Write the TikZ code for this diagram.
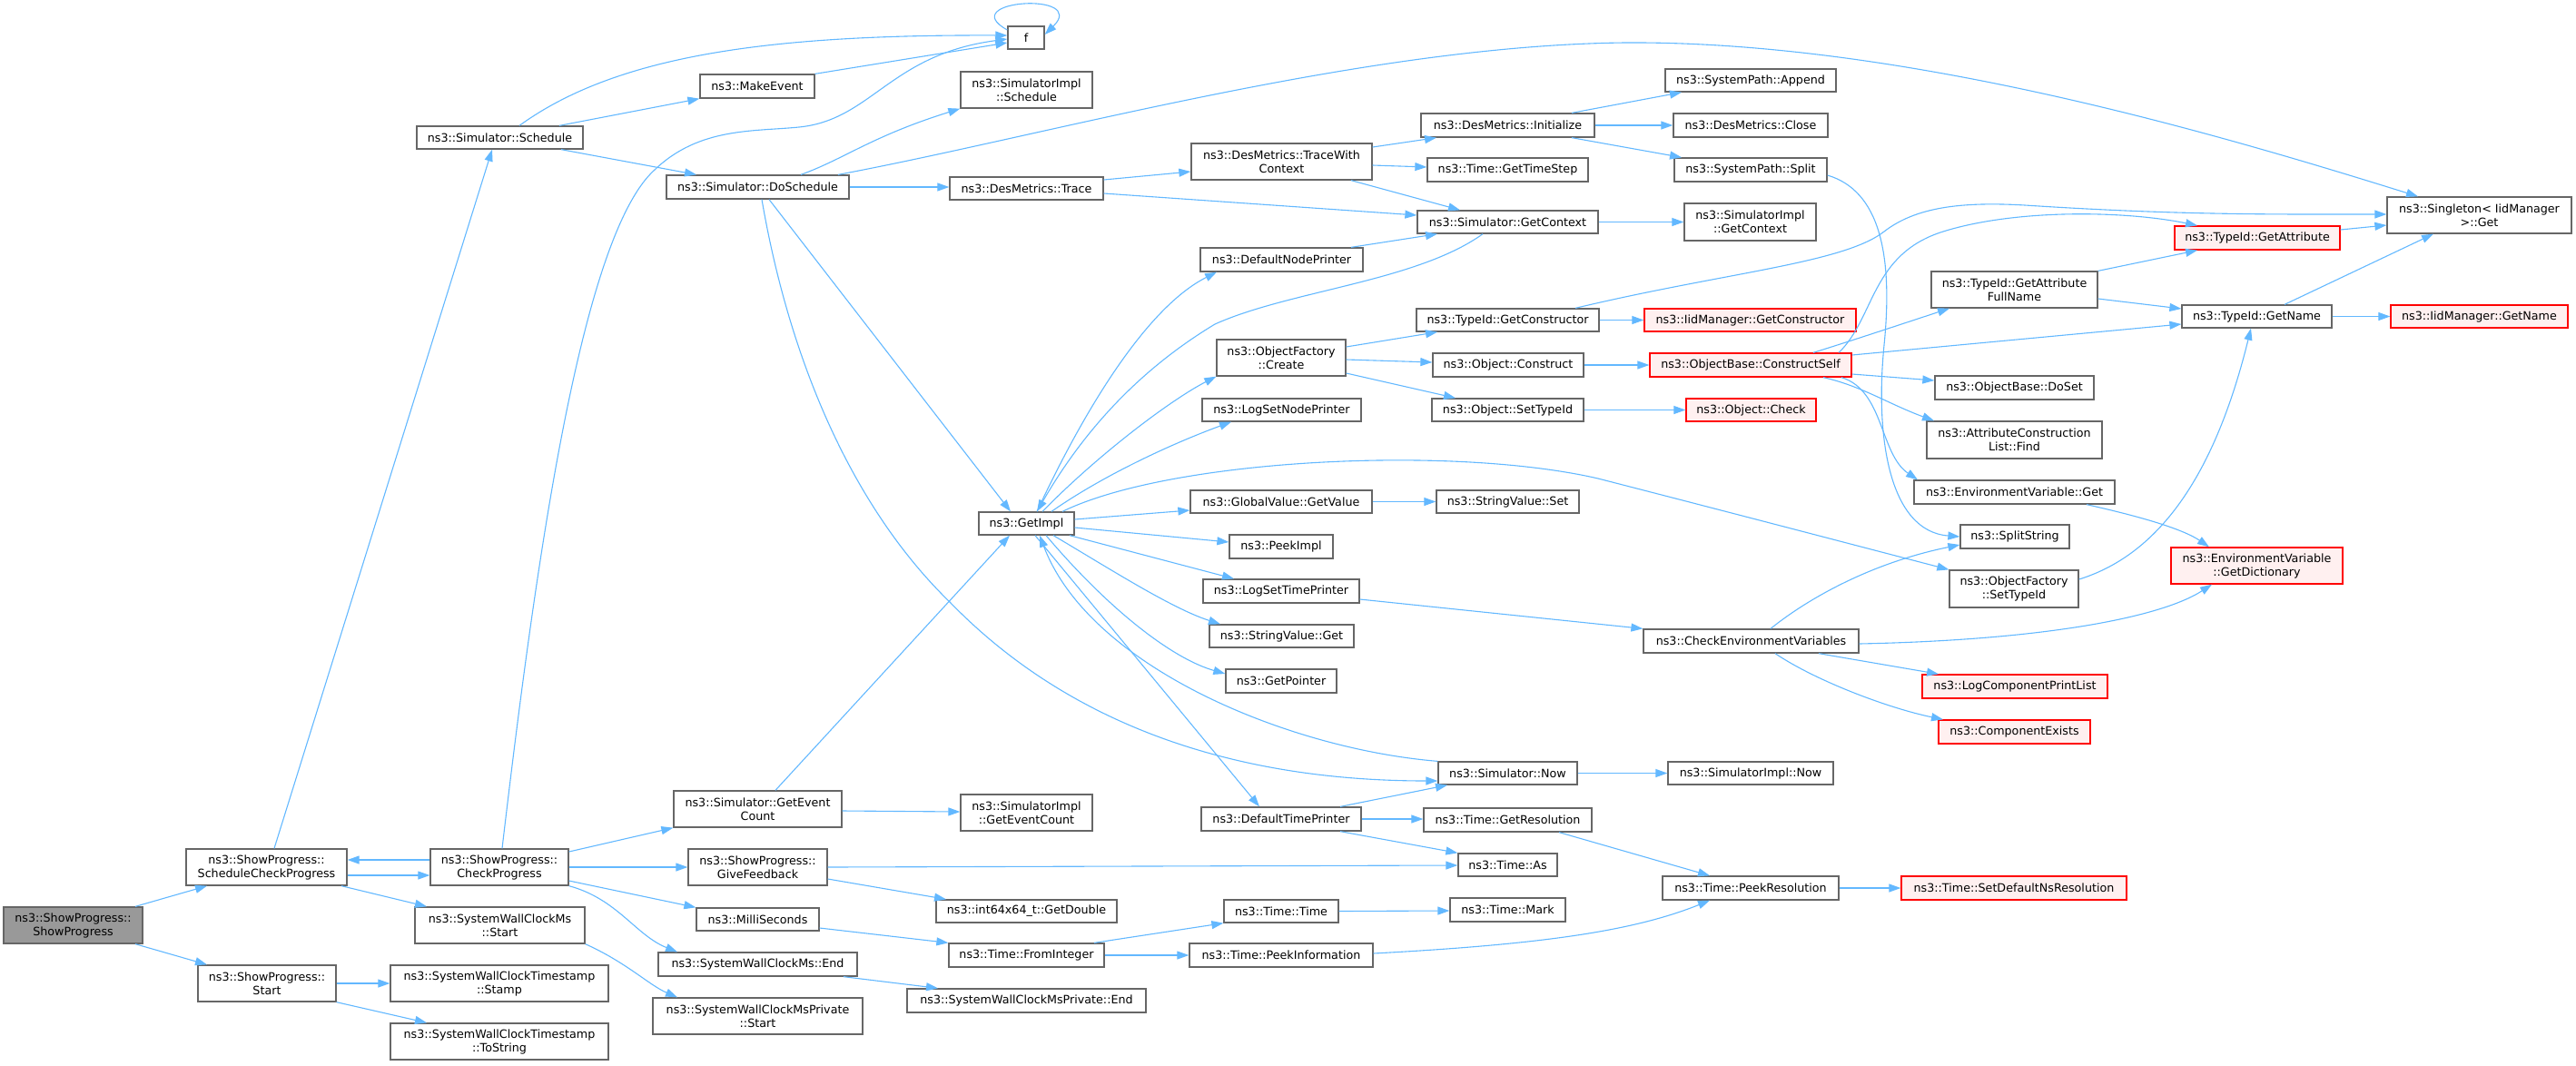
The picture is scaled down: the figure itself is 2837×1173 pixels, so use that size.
\documentclass[tikz,border=0pt]{standalone}
\usepackage{fontspec}
\usetikzlibrary{arrows.meta}
\newfontfamily\dvsans{DejaVu Sans}
\definecolor{edgeblue}{HTML}{63B8FF}
\definecolor{boxgray}{HTML}{666666}
\definecolor{redfill}{HTML}{FFF0F0}
\definecolor{grayfill}{HTML}{999999}
\newcommand\nodefont{\dvsans\fontsize{12.7}{15}\selectfont}
\newcommand\nb[7][]{\node[box,#1,minimum width={(#5-#3)*1pt},minimum height={(#6-#4)*1pt}] (#2) at ({(#3+#5)/2},{(#4+#6)/2}) {#7};}
\begin{document}
\begin{tikzpicture}[x=1pt,y=-1pt,
  box/.style={draw=boxgray, line width=1.3pt, fill=white, inner sep=0pt, align=center, font=\nodefont, text=black},
  redbox/.style={draw=red, fill=redfill},
  edge/.style={draw=edgeblue, line width=1.1pt, -{Triangle[length=13pt,width=9pt]}}]
\useasboundingbox (0,0) rectangle (2837,1173);
% nodes
\nb[fill=grayfill]{showprog}{4}{999}{157}{1039}{ns3::ShowProgress::\\ShowProgress}
\nb{sched}{205}{935}{382}{975}{ns3::ShowProgress::\\ScheduleCheckProgress}
\nb{check}{474}{935}{626}{975}{ns3::ShowProgress::\\CheckProgress}
\nb{swcmstart}{457}{999}{644}{1039}{ns3::SystemWallClockMs\\::Start}
\nb{spstart}{218}{1063}{370}{1103}{ns3::ShowProgress::\\Start}
\nb{stamp}{430}{1063}{670}{1103}{ns3::SystemWallClockTimestamp\\::Stamp}
\nb{tostring}{430}{1127}{670}{1167}{ns3::SystemWallClockTimestamp\\::ToString}
\nb{simsched}{459}{139}{642}{164}{ns3::Simulator::Schedule}
\nb{makeevent}{771}{82}{897}{108}{ns3::MakeEvent}
\nb{f}{1110}{29}{1150}{54}{f}
\nb{simimplsched}{1058}{79}{1203}{119}{ns3::SimulatorImpl\\::Schedule}
\nb{dosched}{734}{193}{935}{219}{ns3::Simulator::DoSchedule}
\nb{trace}{1046}{195}{1215}{220}{ns3::DesMetrics::Trace}
\nb{tracewc}{1312}{158}{1511}{198}{ns3::DesMetrics::TraceWith\\Context}
\nb{init}{1565}{125}{1756}{151}{ns3::DesMetrics::Initialize}
\nb{timestep}{1572}{174}{1749}{200}{ns3::Time::GetTimeStep}
\nb{getctx}{1561}{232}{1760}{257}{ns3::Simulator::GetContext}
\nb{append}{1834}{76}{2022}{101}{ns3::SystemPath::Append}
\nb{close}{1843}{125}{2013}{151}{ns3::DesMetrics::Close}
\nb{split}{1844}{174}{2012}{200}{ns3::SystemPath::Split}
\nb{implctx}{1855}{224}{2000}{265}{ns3::SimulatorImpl\\::GetContext}
\nb{defnode}{1322}{273}{1501}{299}{ns3::DefaultNodePrinter}
\nb{singleton}{2629}{217}{2832}{257}{ns3::Singleton< IidManager\\>::Get}
\nb[redbox]{getattr}{2395}{249}{2577}{275}{ns3::TypeId::GetAttribute}
\nb{attrfull}{2127}{299}{2310}{339}{ns3::TypeId::GetAttribute\\FullName}
\nb{getname}{2403}{336}{2568}{361}{ns3::TypeId::GetName}
\nb[redbox]{iidgetname}{2633}{336}{2828}{361}{ns3::IidManager::GetName}
\nb{getctor}{1560}{340}{1761}{365}{ns3::TypeId::GetConstructor}
\nb[redbox]{iidgetctor}{1811}{340}{2044}{365}{ns3::IidManager::GetConstructor}
\nb{create}{1340}{374}{1482}{414}{ns3::ObjectFactory\\::Create}
\nb{construct}{1578}{389}{1744}{415}{ns3::Object::Construct}
\nb[redbox]{cself}{1817}{389}{2039}{415}{ns3::ObjectBase::ConstructSelf}
\nb{logsetnode}{1324}{439}{1499}{464}{ns3::LogSetNodePrinter}
\nb{settypeid}{1577}{439}{1744}{464}{ns3::Object::SetTypeId}
\nb[redbox]{objcheck}{1857}{439}{2000}{464}{ns3::Object::Check}
\nb{doset}{2131}{414}{2306}{440}{ns3::ObjectBase::DoSet}
\nb{acl}{2122}{464}{2315}{505}{ns3::AttributeConstruction\\List::Find}
\nb{envget}{2108}{529}{2329}{555}{ns3::EnvironmentVariable::Get}
\nb{splitstr}{2159}{578}{2279}{604}{ns3::SplitString}
\nb{ofsettypeid}{2147}{628}{2289}{669}{ns3::ObjectFactory\\::SetTypeId}
\nb[redbox]{getdict}{2391}{603}{2580}{643}{ns3::EnvironmentVariable\\::GetDictionary}
\nb{getvalue}{1311}{540}{1511}{565}{ns3::GlobalValue::GetValue}
\nb{svset}{1582}{540}{1739}{565}{ns3::StringValue::Set}
\nb{getimpl}{1078}{564}{1183}{589}{ns3::GetImpl}
\nb{peekimpl}{1354}{589}{1468}{615}{ns3::PeekImpl}
\nb{logsettime}{1325}{638}{1497}{664}{ns3::LogSetTimePrinter}
\nb{svget}{1332}{688}{1491}{713}{ns3::StringValue::Get}
\nb{getpointer}{1350}{737}{1472}{763}{ns3::GetPointer}
\nb{checkenv}{1810}{693}{2047}{719}{ns3::CheckEnvironmentVariables}
\nb[redbox]{logcpl}{2117}{743}{2321}{769}{ns3::LogComponentPrintList}
\nb[redbox]{compexists}{2135}{793}{2302}{819}{ns3::ComponentExists}
\nb{simnow}{1584}{839}{1737}{864}{ns3::Simulator::Now}
\nb{implnow}{1837}{839}{2019}{864}{ns3::SimulatorImpl::Now}
\nb{geteventcount}{742}{871}{927}{911}{ns3::Simulator::GetEvent\\Count}
\nb{implgetec}{1058}{875}{1203}{915}{ns3::SimulatorImpl\\::GetEventCount}
\nb{deftime}{1323}{889}{1499}{915}{ns3::DefaultTimePrinter}
\nb{getres}{1568}{890}{1753}{916}{ns3::Time::GetResolution}
\nb{giveff}{758}{935}{911}{975}{ns3::ShowProgress::\\GiveFeedback}
\nb{timeas}{1606}{940}{1715}{965}{ns3::Time::As}
\nb{getdouble}{1031}{991}{1230}{1016}{ns3::int64x64\_t::GetDouble}
\nb{millis}{767}{1000}{902}{1025}{ns3::MilliSeconds}
\nb{timetime}{1348}{991}{1474}{1016}{ns3::Time::Time}
\nb{timemark}{1597}{989}{1724}{1015}{ns3::Time::Mark}
\nb{peekres}{1831}{965}{2025}{991}{ns3::Time::PeekResolution}
\nb[redbox]{setdefres}{2094}{965}{2342}{991}{ns3::Time::SetDefaultNsResolution}
\nb{frominteger}{1045}{1039}{1216}{1065}{ns3::Time::FromInteger}
\nb{peekinfo}{1310}{1039}{1512}{1065}{ns3::Time::PeekInformation}
\nb{swcmend}{725}{1049}{944}{1075}{ns3::SystemWallClockMs::End}
\nb{swcmpend}{999}{1089}{1262}{1115}{ns3::SystemWallClockMsPrivate::End}
\nb{swcmpstart}{719}{1099}{950}{1139}{ns3::SystemWallClockMsPrivate\\::Start}
% edges
\draw[edge] (showprog.north -| 149,0) -- (sched.south -| 228,0);
\draw[edge] (showprog.south -| 149,0) -- (spstart.north -| 228,0);
\draw[edge] (sched.east |- 0,964) -- (check.west |- 0,964);
\draw[edge] (check.west |- 0,947) -- (sched.east |- 0,947);
\draw[edge] (sched.south -| 376,0) -- (swcmstart.north -| 470,0);
\draw[edge] (sched.north -| 302,0) -- (simsched.south -| 542,0);
\draw[edge] (spstart.east |- 0,1083) -- (stamp.west |- 0,1083);
\draw[edge] (spstart.south east) -- (tostring.north -| 470,0);
\draw[edge] (swcmstart.south east) .. controls (690,1060) and (715,1085) .. (swcmpstart.north -| 746,0);
\draw[edge] (check.east |- 0,938) -- (geteventcount.south west);
\draw[edge] (check.east |- 0,955) -- (giveff.west);
\draw[edge] (check.east |- 0,970) -- (millis.north west);
\draw[edge] (check.south east) .. controls (680,990) and (700,1030) .. (swcmend.north -| 746,0);
\draw[edge] (simsched.north -| 572,0) .. controls (680,60) and (850,38) .. (f.west |- 0,39);
\draw[edge] (simsched.north -| 616,0) -- (makeevent.south west);
\draw[edge] (simsched.south -| 618,0) -- (dosched.north -| 767,0);
\draw[edge] (makeevent.north east) -- (f.west |- 0,47);
\draw[edge] (check.north -| 553,0) .. controls (590,620) and (640,260) .. (721,187) .. controls (770,140) and (830,145) .. (880,140) .. controls (960,132) and (980,60) .. (f.west |- 0,43);
\draw[edge] (f.west |- 0,33) .. controls (1050,0) and (1200,-10) .. (f.east |- 0,38);
\draw[edge] (dosched.north -| 882,0) .. controls (930,175) and (960,150) .. (simimplsched.south west);
\draw[edge] (dosched.north -| 923,0) .. controls (1150,150) and (1500,50) .. (1790,47) .. controls (2100,45) and (2450,150) .. (singleton.north -| 2663,0);
\draw[edge] (dosched.east) -- (trace.west |- 0,206);
\draw[edge] (dosched.south -| 847,0) -- (getimpl.north -| 1113,0);
\draw[edge] (dosched.south -| 839,0) .. controls (870,400) and (940,560) .. (1046,663) .. controls (1140,760) and (1300,860) .. (simnow.west |- 0,860);
\draw[edge] (trace.east |- 0,198) -- (tracewc.west |- 0,189);
\draw[edge] (trace.east |- 0,213) -- (getctx.west |- 0,237);
\draw[edge] (tracewc.east |- 0,162) -- (init.south -| 1582,0);
\draw[edge] (tracewc.east |- 0,182) -- (timestep.west |- 0,184);
\draw[edge] (tracewc.south -| 1488,0) -- (getctx.north -| 1608,0);
\draw[edge] (init.north -| 1731,0) -- (append.south -| 1852,0);
\draw[edge] (init.east) -- (close.west);
\draw[edge] (init.south -| 1731,0) -- (split.north -| 1852,0);
\draw[edge] (getctx.east) -- (implctx.west);
\draw[edge] (split.east |- 0,193) .. controls (2070,210) and (2085,280) .. (2075,380) .. controls (2065,480) and (2080,585) .. (splitstr.west |- 0,591);
\draw[edge] (getctx.south -| 1633,0) .. controls (1560,310) and (1420,320) .. (1338,357) .. controls (1250,410) and (1190,480) .. (getimpl.north -| 1142,0);
\draw[edge] (getimpl.north -| 1142,0) .. controls (1190,460) and (1260,340) .. (defnode.south -| 1340,0);
\draw[edge] (defnode.north -| 1488,0) -- (getctx.south -| 1583,0);
\draw[edge] (getimpl.north -| 1148,0) .. controls (1210,500) and (1290,440) .. (create.south west);
\draw[edge] (getimpl.north -| 1158,0) .. controls (1220,520) and (1300,485) .. (logsetnode.south -| 1356,0);
\draw[edge] (getimpl.north -| 1170,0) .. controls (1290,505) and (1600,490) .. (1760,527) .. controls (1900,563) and (2030,597) .. (ofsettypeid.north west);
\draw[edge] (getimpl.east |- 0,572) -- (getvalue.west |- 0,562);
\draw[edge] (getimpl.east |- 0,581) -- (peekimpl.west |- 0,597);
\draw[edge] (getimpl.south -| 1178,0) -- (logsettime.north -| 1359,0);
\draw[edge] (getimpl.south -| 1160,0) .. controls (1220,625) and (1290,670) .. (svget.north -| 1344,0);
\draw[edge] (getimpl.south -| 1152,0) .. controls (1220,670) and (1290,725) .. (getpointer.west |- 0,742);
\draw[edge] (getimpl.south -| 1140,0) -- (deftime.north -| 1387,0);
\draw[edge] (simnow.north west) .. controls (1420,825) and (1200,735) .. (getimpl.south -| 1145,0);
\draw[edge] (geteventcount.north -| 854,0) -- (getimpl.south -| 1112,0);
\draw[edge] (geteventcount.east |- 0,893) -- (implgetec.west |- 0,894);
\draw[edge] (getctor.east) -- (iidgetctor.west);
\draw[edge] (getctor.north -| 1735,0) .. controls (1900,300) and (2030,290) .. (2075,255) .. controls (2110,228) and (2160,222) .. (2230,226) .. controls (2400,237) and (2500,236) .. (singleton.west |- 0,236);
\draw[edge] (create.east |- 0,382) -- (getctor.south -| 1583,0);
\draw[edge] (create.east |- 0,396) -- (construct.west |- 0,399);
\draw[edge] (create.east |- 0,411) -- (settypeid.north -| 1603,0);
\draw[edge] (construct.east) -- (cself.west);
\draw[edge] (settypeid.east) -- (objcheck.west);
\draw[edge] (cself.north -| 2025,0) .. controls (2065,350) and (2060,280) .. (2140,255) .. controls (2220,230) and (2340,232) .. (getattr.north -| 2420,0);
\draw[edge] (cself.north -| 1997,0) .. controls (2040,375) and (2100,355) .. (attrfull.south -| 2147,0);
\draw[edge] (cself.east |- 0,391) -- (getname.west |- 0,357);
\draw[edge] (cself.east |- 0,412) -- (doset.west |- 0,419);
\draw[edge] (cself.south -| 2008,0) .. controls (2050,425) and (2080,445) .. (acl.north -| 2130,0);
\draw[edge] (cself.south -| 2028,0) .. controls (2075,430) and (2070,500) .. (envget.north -| 2112,0);
\draw[edge] (attrfull.north east) -- (getattr.south -| 2420,0);
\draw[edge] (attrfull.east |- 0,329) -- (getname.west |- 0,340);
\draw[edge] (getattr.east |- 0,253) -- (singleton.west |- 0,248);
\draw[edge] (getname.north -| 2516,0) -- (singleton.south -| 2680,0);
\draw[edge] (getname.east) -- (iidgetname.west);
\draw[edge] (ofsettypeid.east |- 0,638) .. controls (2380,610) and (2440,520) .. (getname.south -| 2479,0);
\draw[edge] (envget.south -| 2298,0) .. controls (2340,565) and (2400,580) .. (getdict.north -| 2433,0);
\draw[edge] (checkenv.north -| 1950,0) .. controls (1990,660) and (2060,620) .. (splitstr.west |- 0,600);
\draw[edge] (checkenv.east |- 0,709) .. controls (2250,705) and (2380,680) .. (getdict.south -| 2436,0);
\draw[edge] (checkenv.south -| 2003,0) -- (logcpl.north -| 2135,0);
\draw[edge] (checkenv.south -| 1955,0) .. controls (2000,750) and (2080,780) .. (compexists.north -| 2140,0);
\draw[edge] (logsettime.east |- 0,660) -- (checkenv.north west);
\draw[edge] (getvalue.east) -- (svset.west);
\draw[edge] (simnow.east) -- (implnow.west);
\draw[edge] (deftime.north -| 1476,0) -- (simnow.south -| 1594,0);
\draw[edge] (deftime.east) -- (getres.west |- 0,902);
\draw[edge] (deftime.south -| 1476,0) -- (timeas.north west);
\draw[edge] (giveff.east) -- (timeas.west |- 0,953);
\draw[edge] (giveff.east |- 0,968) -- (getdouble.north -| 1042,0);
\draw[edge] (getres.south -| 1717,0) -- (peekres.north -| 1883,0);
\draw[edge] (peekres.east) -- (setdefres.west);
\draw[edge] (peekinfo.east |- 0,1050) .. controls (1700,1040) and (1800,1025) .. (peekres.south -| 1883,0);
\draw[edge] (millis.east |- 0,1022) -- (frominteger.north west);
\draw[edge] (frominteger.north -| 1205,0) -- (timetime.south west);
\draw[edge] (frominteger.east) -- (peekinfo.west);
\draw[edge] (timetime.east) -- (timemark.west |- 0,1003);
\draw[edge] (swcmend.south -| 929,0) -- (swcmpend.north -| 1033,0);
\end{tikzpicture}
\end{document}
